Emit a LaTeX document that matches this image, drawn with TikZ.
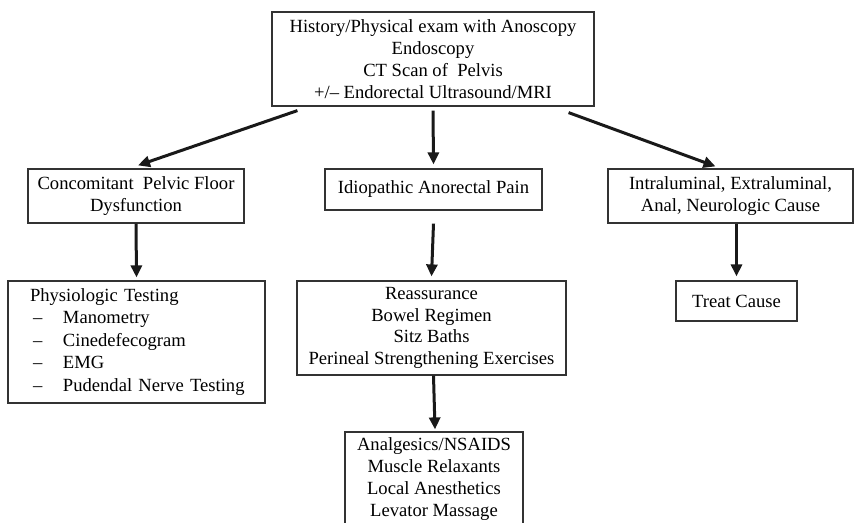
\documentclass[tikz,border=0pt]{standalone}
\usepackage{fontspec}
\setmainfont{Liberation Serif}
\usetikzlibrary{arrows.meta}

\begin{document}
\begin{tikzpicture}[x=1pt,y=-1pt,
  box/.style={draw=black!80, line width=1.2pt, align=center, inner sep=0pt,
    font=\fontsize{18.6}{21.8}\selectfont},
  arr/.style={line width=3pt, black!90, -{Triangle[length=12pt,width=11pt]}}]
\clip (0,0) rectangle (856,522);
% boxes
\node [box, minimum width=322, minimum height=94] (hist) at (433,59)
  {History/Physical exam with Anoscopy\\Endoscopy\\CT Scan of\ \ Pelvis\\+/-- Endorectal Ultrasound/MRI};
\node [box, minimum width=216, minimum height=54] (floor) at (136,196)
  {Concomitant\ \ Pelvic Floor\\Dysfunction};
\node [box, minimum width=217, minimum height=41] (idio) at (433.5,189.5)
  {Idiopathic Anorectal Pain};
\node [box, minimum width=245, minimum height=54] (cause) at (730.5,196)
  {Intraluminal, Extraluminal,\\Anal, Neurologic Cause};
\node [box, align=left, text width=257pt, minimum height=122,
  font=\fontsize{18.6}{22.5}\selectfont] (phys) at (136.5,342)
  {\hspace*{22pt}Physiologic Testing\\
   \hspace*{25pt}\makebox[30pt][l]{--}Manometry\\
   \hspace*{25pt}\makebox[30pt][l]{--}Cinedefecogram\\
   \hspace*{25pt}\makebox[30pt][l]{--}EMG\\
   \hspace*{25pt}\makebox[30pt][l]{--}Pudendal Nerve Testing};
\node [box, minimum width=269, minimum height=94] (reass) at (431.5,328)
  {Reassurance\\Bowel Regimen\\Sitz Baths\\Perineal Strengthening Exercises};
\node [box, minimum width=121, minimum height=40] (treat) at (736.5,301)
  {Treat Cause};
\node [box, minimum width=178, minimum height=94] (meds) at (434,479)
  {Analgesics/NSAIDS\\Muscle Relaxants\\Local Anesthetics\\Levator Massage};
% arrows
\draw [arr] ([xshift=26pt,yshift=-4pt]hist.south west) -- ([xshift=2pt,yshift=3pt]floor.north);
\draw [arr] ([yshift=-4pt]hist.south) -- ([yshift=4pt]idio.north);
\draw [arr] ([xshift=-26pt,yshift=-6pt]hist.south east) -- ([xshift=-15pt,yshift=2pt]cause.north);
\draw [arr] (floor.south) -- ([yshift=3pt]phys.north);
\draw [arr] ([yshift=-13pt]idio.south) -- ([yshift=4pt]reass.north);
\draw [arr] (treat.north |- cause.south) -- ([yshift=4pt]treat.north);
\draw [arr] ([xshift=2pt]reass.south) -- ([xshift=1pt,yshift=2pt]meds.north);
\end{tikzpicture}
\end{document}
